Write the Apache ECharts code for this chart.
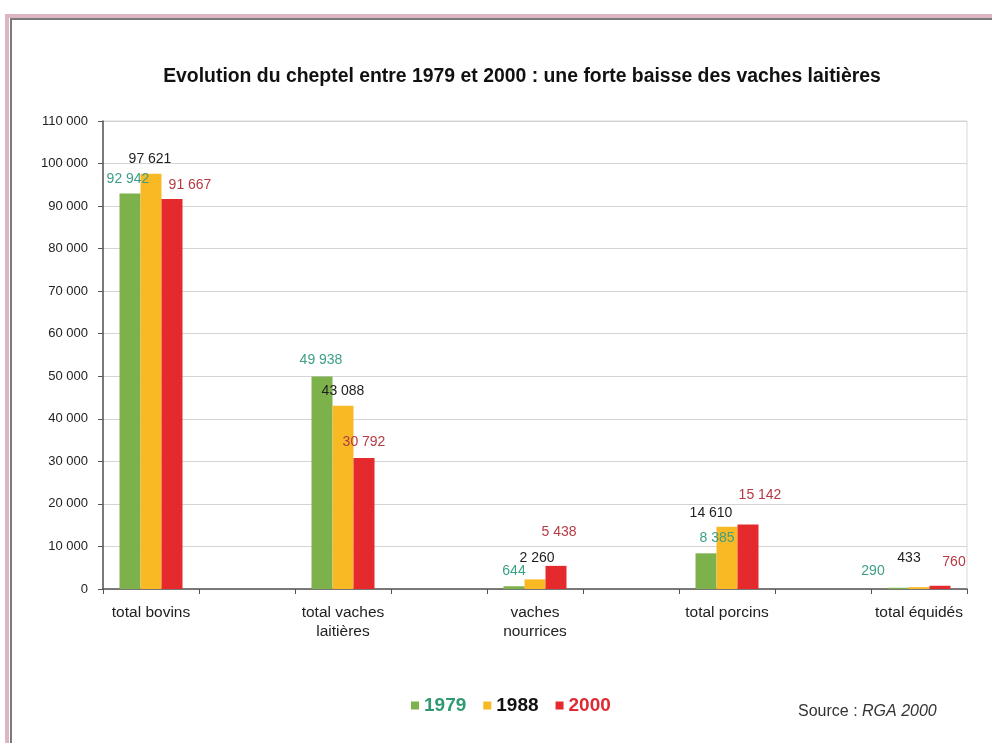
<!DOCTYPE html>
<html><head><meta charset="utf-8">
<script src="https://cdn.jsdelivr.net/npm/echarts@6/dist/echarts.min.js"></script>
<style>html,body{margin:0;padding:0;background:#fff}#c{width:992px;height:743px}</style>
</head><body><div id="c"></div>
<script>
const categories = ['total bovins', 'total vaches\nlaitières', 'vaches\nnourrices', 'total porcins', 'total équidés'];
const years = ['1979', '1988', '2000'];
const v1979 = [92942, 49938, 644, 8385, 290];
const v1988 = [97621, 43088, 2260, 14610, 433];
const v2000 = [91667, 30792, 5438, 15142, 760];
const yMin = 0, yMax = 110000, yStep = 10000;

// label nudges (px) replicating the hand-placed labels of the original
const labelNudge = [
  [[-2, -7], [-1, -9], [0, -8], [11, -8], [-25, -10]],
  [[-1, -8], [0, -8], [2, -14], [-16, -7], [-10, -22]],
  [[18, -7], [0, -9], [3, -27], [12, -22], [14, -17]]
];

// spacer slots between categories (as in the original layout)
function pad(arr, fill) {
  const out = [];
  arr.forEach((v, i) => { out.push(v); if (i < arr.length - 1) out.push(fill); });
  return out;
}
const fmt = v => String(v).replace(/\B(?=(\d{3})+(?!\d))/g, ' ');
const FONT = '"Liberation Sans", Arial, sans-serif';
const barColors = ['#7cb14c', '#f8b925', '#e52a2d'];
const labelColors = ['#3c9e87', '#1e1e1e', '#b53a44'];
const legendColors = ['#2f9a72', '#111111', '#dd2a33'];

const chart = echarts.init(document.getElementById('c'), null, {renderer: 'canvas'});
const seriesVals = [v1979, v1988, v2000];
chart.setOption({
  backgroundColor: '#ffffff',
  animation: false,
  title: {
    text: 'Evolution du cheptel entre 1979 et 2000 : une forte baisse des vaches laitières',
    left: 517, textAlign: 'center', top: 62,
    textStyle: {fontFamily: FONT, fontSize: 19.4, fontWeight: 'bold', color: '#111'}
  },
  legend: {
    left: 406, top: 691, itemWidth: 8, itemHeight: 8, itemGap: 17, icon: 'rect',
    textStyle: {fontFamily: FONT, fontSize: 19, fontWeight: 'bold'},
    data: years.map((y, i) => ({name: y, textStyle: {color: legendColors[i]}}))
  },
  grid: {left: 103, right: 25, top: 121, bottom: 154, show: true, borderColor: '#d8d8d8', borderWidth: 1},
  xAxis: {
    type: 'category',
    data: pad(categories, ''),
    axisLine: {lineStyle: {color: '#555', width: 1.5}},
    axisTick: {show: true, length: 5, interval: 0, lineStyle: {color: '#555'}},
    axisLabel: {interval: 0, margin: 14, fontFamily: FONT, fontSize: 15.5, color: '#222', lineHeight: 19}
  },
  yAxis: {
    type: 'value', min: yMin, max: yMax, interval: yStep,
    axisLine: {show: true, lineStyle: {color: '#555', width: 1.5}},
    axisTick: {show: true, length: 5, lineStyle: {color: '#555'}},
    axisLabel: {margin: 15, fontFamily: FONT, fontSize: 13, color: '#222', formatter: v => fmt(v)},
    splitLine: {lineStyle: {color: '#d4d4d4', width: 1}}
  },
  series: years.map((y, i) => ({
    name: y, type: 'bar', barWidth: 21, barGap: '0%',
    itemStyle: {color: barColors[i]},
    data: pad(seriesVals[i].map((v, k) => ({value: v, label: {offset: labelNudge[i][k]}})), '-'),
    label: {
      show: true, position: 'top', distance: 0,
      fontFamily: FONT, fontSize: 14, color: labelColors[i],
      formatter: p => fmt(p.value)
    }
  })),
  graphic: [
    {type: 'rect', silent: true, shape: {x: 7, y: 16, width: 1200, height: 1000},
     style: {fill: null, stroke: '#dcb7c3', lineWidth: 4}},
    {type: 'rect', silent: true, shape: {x: 11, y: 19, width: 1200, height: 1000},
     style: {fill: null, stroke: '#7a7a7a', lineWidth: 2}},
    {type: 'text', left: 798, top: 704, silent: true,
     style: {text: '{a|Source : }{b|RGA 2000}',
       rich: {a: {fontFamily: FONT, fontSize: 16, fill: '#333'},
              b: {fontFamily: FONT, fontSize: 16, fontStyle: 'italic', fill: '#333'}}}}
  ]
});
</script></body></html>
